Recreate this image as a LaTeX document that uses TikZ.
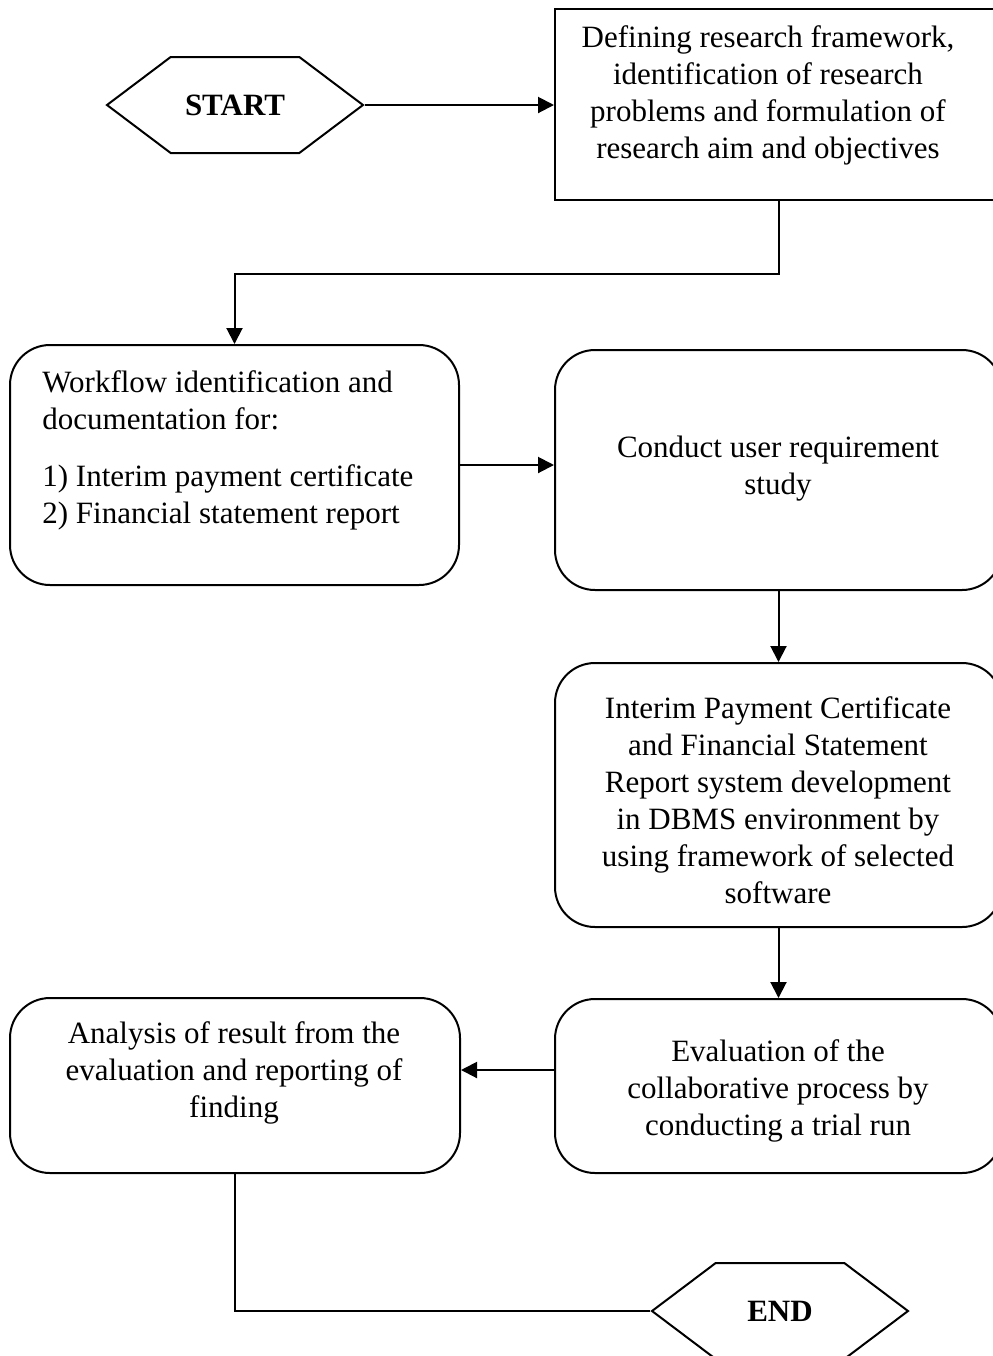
\documentclass[tikz,border=0pt]{standalone}
\usepackage{fontspec}
\setmainfont{Liberation Serif}
\usetikzlibrary{arrows.meta,fit,shapes.symbols}

\tikzset{
  stepbox/.style={draw,line width=1pt,inner sep=0pt},
  roundbox/.style={stepbox,rounded corners=20pt},
  terminal/.style={draw,line width=1pt,signal,signal to=west and east,signal pointer angle=74,
    minimum width=128pt,minimum height=48pt,inner sep=0pt,
    font=\fontsize{15.5}{18.5}\selectfont\bfseries},
  arr/.style={line width=1pt,-{Triangle[length=8pt,width=8pt]}},
  txt/.style={inner sep=0pt,align=center}
}

\begin{document}
\begin{tikzpicture}[x=0.5pt,y=-0.5pt,font=\fontsize{15.5}{18.5}\selectfont]
\useasboundingbox (0,0) rectangle (992,1356);

\node[terminal] (start) at (235,105) {START};
\node[stepbox,fit={(555,9)(1002,200)}] (define) {};
\node[txt] (defineT) at (768,95) {Defining research framework,\\identification of research\\problems and formulation of\\research aim and objectives};

\node[roundbox,fit={(10,345)(459,585)}] (workflow) {};
\node[txt,align=left,anchor=west] (workflowT) at (42,450) {Workflow identification and\\documentation for:\\[10pt]1) Interim payment certificate\\2) Financial statement report};

\node[roundbox,fit={(555,350)(1002,590)}] (study) {};
\node[txt] (studyT) at (778,469) {Conduct user requirement\\study};

\node[roundbox,fit={(555,663)(1002,927)}] (develop) {};
\node[txt] (developT) at (778,800) {Interim Payment Certificate\\and Financial Statement\\Report system development\\in DBMS environment by\\using framework of selected\\software};

\node[roundbox,fit={(555,999)(1002,1173)}] (evaluate) {};
\node[txt] (evaluateT) at (778,1091) {Evaluation of the\\collaborative process by\\conducting a trial run};

\node[roundbox,fit={(10,998)(460,1173)}] (analysis) {};
\node[txt] (analysisT) at (234,1073) {Analysis of result from the\\evaluation and reporting of\\finding};

\node[terminal] (end) at (780,1311) {END};

\coordinate (evalrow) at (0,1070);

% connectors
\draw[arr] (start.east) -- (start.east -| define.west);
\draw[arr] (define.south) -- ++(0,73) -| (workflow.north);
\draw[arr] (workflow.east) -- (workflow.east -| study.west);
\draw[arr] (study.south) -- (develop.north);
\draw[arr] (develop.south) -- (evaluate.north);
\draw[arr] (evaluate.west |- evalrow) -- (analysis.east |- evalrow);
\draw[line width=1pt] (analysis.south) |- (end.west);
\end{tikzpicture}
\end{document}
